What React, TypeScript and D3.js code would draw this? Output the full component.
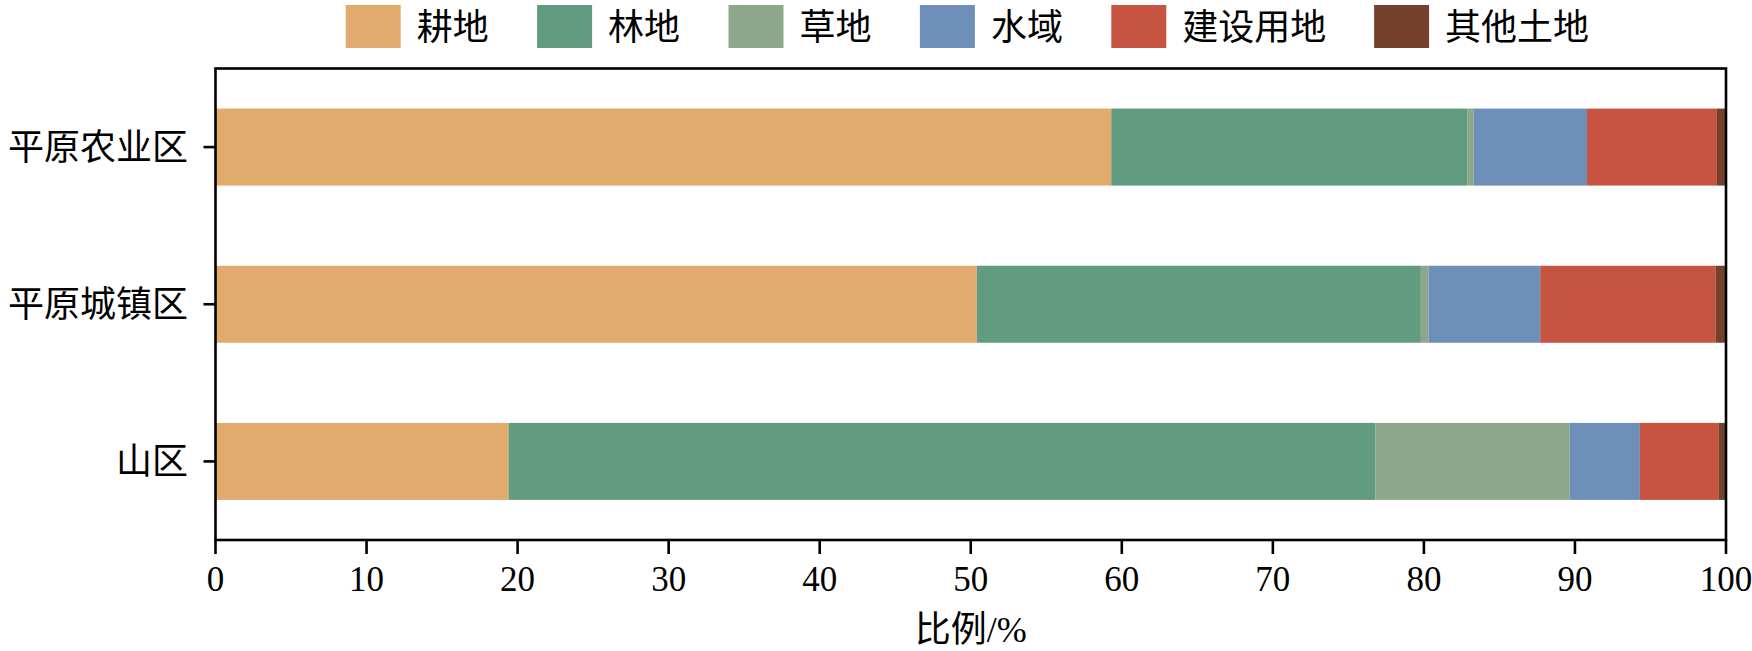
import React from 'react';
import * as d3 from 'd3';

const categories = ['平原农业区', '平原城镇区', '山区'];
const seriesNames = ['耕地', '林地', '草地', '水域', '建设用地', '其他土地'];
const gengdi = [59.3, 50.4, 19.4];
const lindi = [23.6, 29.4, 57.4];
const caodi = [0.4, 0.5, 12.85];
const shuiyu = [7.5, 7.4, 4.65];
const jianshe = [8.6, 11.6, 5.2];
const qita = [0.6, 0.7, 0.5];
const xTicks = [0, 10, 20, 30, 40, 50, 60, 70, 80, 90, 100];
const colors = ['#E1AB6E', '#619C80', '#8DA78A', '#6E90B8', '#C65441', '#75412D'];

const seriesValues = [gengdi, lindi, caodi, shuiyu, jianshe, qita];

const W = 1752;
const H = 651;
const left = 215.5;
const right = 1726;
const top = 68.5;
const bottom = 540;
const FONT = '"Liberation Serif", "Noto Sans CJK SC", serif';
const FS = 35;

export default function App() {
  const x = d3.scaleLinear().domain([0, 100]).range([left, right]);
  const y = d3.scaleLinear().domain([-0.5, 2.5]).range([top, bottom]);
  const barH = 0.49;

  const table = categories.map((c, i) => {
    const row: any = { cat: c, idx: i };
    seriesNames.forEach((s, k) => (row[s] = seriesValues[k][i]));
    return row;
  });
  const stacked = d3.stack<any>().keys(seriesNames)(table);

  // legend layout
  const legendX0 = 345.7;
  const swW = 55;
  const swH = 43;
  const swY = 5;
  const textGap = 16;
  const colGap = 49;
  const legendItems: { name: string; x: number; color: string }[] = [];
  let cx = legendX0;
  seriesNames.forEach((s, k) => {
    legendItems.push({ name: s, x: cx, color: colors[k] });
    cx += swW + textGap + s.length * 35.7 + colGap;
  });

  return (
    <svg
      width={W}
      height={H}
      style={{ position: 'absolute', left: 0, top: 0, background: '#fff' }}
      fontFamily={FONT}
    >
      <rect x={0} y={0} width={W} height={H} fill="#fff" />
      {/* bars */}
      {stacked.map((layer, k) => (
        <g key={layer.key} fill={colors[k]}>
          {layer.map((d, i) => (
            <rect
              key={i}
              x={x(d[0])}
              width={Math.max(0, x(d[1]) - x(d[0]))}
              y={y(i - barH / 2)}
              height={y(barH) - y(0)}
            />
          ))}
        </g>
      ))}
      {/* frame */}
      <rect x={left} y={top} width={right - left} height={bottom - top} fill="none" stroke="#000" strokeWidth={2.6} />
      {/* x ticks */}
      {xTicks.map((t) => (
        <g key={t}>
          <line x1={x(t)} x2={x(t)} y1={bottom} y2={bottom + 14} stroke="#000" strokeWidth={2.6} />
          <text x={x(t)} y={591} textAnchor="middle" fontSize={FS} fill="#000">
            {t}
          </text>
        </g>
      ))}
      {/* y ticks */}
      {categories.map((c, i) => (
        <g key={c}>
          <line x1={left - 12} x2={left} y1={y(i)} y2={y(i)} stroke="#000" strokeWidth={2.6} />
          <text x={188} y={y(i) + 13} textAnchor="end" fontSize={36} fill="#000">
            {c}
          </text>
        </g>
      ))}
      {/* x label */}
      <text x={(left + right) / 2} y={642} textAnchor="middle" fontSize={36} fill="#000">
        比例/%
      </text>
      {/* legend */}
      {legendItems.map((it) => (
        <g key={it.name}>
          <rect x={it.x} y={swY} width={swW} height={swH} fill={it.color} />
          <text x={it.x + swW + textGap} y={swY + swH / 2 + 13} fontSize={36} fill="#000">
            {it.name}
          </text>
        </g>
      ))}
    </svg>
  );
}
